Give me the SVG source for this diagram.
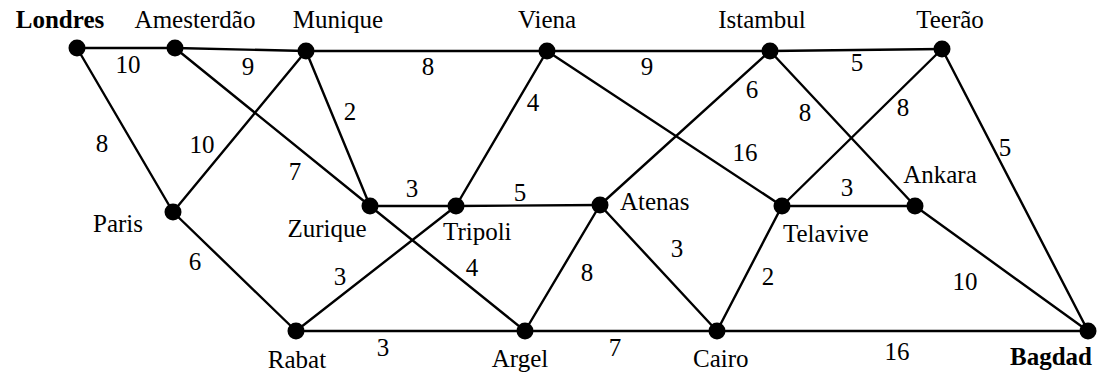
<svg xmlns="http://www.w3.org/2000/svg" width="1098" height="376" viewBox="0 0 1098 376" font-family="'Liberation Serif', 'Times New Roman', 'DejaVu Serif', serif" font-size="25">
<style>
.e{stroke:#000;stroke-width:2.4;fill:none;stroke-linecap:round}
.n{fill:#000}
text{font-family:'Liberation Serif','Times New Roman','DejaVu Serif',serif;font-size:25px;fill:#000}
.w{text-anchor:middle}
.b{font-weight:bold}
</style>
<rect width="1098" height="376" fill="#fff"/>
<g id="connectors">
<line class="e" x1="77" y1="48" x2="175" y2="48"/>
<line class="e" x1="175" y1="48" x2="306" y2="51"/>
<line class="e" x1="306" y1="51" x2="547" y2="51"/>
<line class="e" x1="547" y1="51" x2="770" y2="51"/>
<line class="e" x1="770" y1="51" x2="942" y2="49"/>
<line class="e" x1="77" y1="48" x2="173" y2="212"/>
<line class="e" x1="173" y1="212" x2="306" y2="51"/>
<line class="e" x1="175" y1="48" x2="370" y2="206"/>
<line class="e" x1="306" y1="51" x2="370" y2="206"/>
<line class="e" x1="547" y1="51" x2="456" y2="206"/>
<line class="e" x1="547" y1="51" x2="782" y2="206"/>
<line class="e" x1="770" y1="51" x2="600" y2="205"/>
<line class="e" x1="770" y1="51" x2="915" y2="206"/>
<line class="e" x1="942" y1="49" x2="782" y2="206"/>
<line class="e" x1="942" y1="49" x2="1088" y2="331"/>
<line class="e" x1="173" y1="212" x2="296" y2="331"/>
<line class="e" x1="370" y1="206" x2="456" y2="206"/>
<line class="e" x1="456" y1="206" x2="600" y2="205"/>
<line class="e" x1="782" y1="206" x2="915" y2="206"/>
<line class="e" x1="370" y1="206" x2="525" y2="331"/>
<line class="e" x1="296" y1="331" x2="456" y2="206"/>
<line class="e" x1="600" y1="205" x2="525" y2="331"/>
<line class="e" x1="600" y1="205" x2="717" y2="331"/>
<line class="e" x1="782" y1="206" x2="717" y2="331"/>
<line class="e" x1="915" y1="206" x2="1088" y2="331"/>
<line class="e" x1="296" y1="331" x2="525" y2="331"/>
<line class="e" x1="525" y1="331" x2="717" y2="331"/>
<line class="e" x1="717" y1="331" x2="1088" y2="331"/>
<g class="w" text-anchor="middle">
<text x="128" y="73">10</text>
<text x="248" y="75">9</text>
<text x="428" y="75">8</text>
<text x="647" y="75">9</text>
<text x="857" y="71">5</text>
<text x="350" y="120">2</text>
<text x="533" y="111">4</text>
<text x="752" y="98">6</text>
<text x="805" y="121">8</text>
<text x="903" y="116">8</text>
<text x="102" y="152">8</text>
<text x="202" y="153">10</text>
<text x="295" y="180">7</text>
<text x="745" y="161">16</text>
<text x="1005" y="156">5</text>
<text x="412" y="197">3</text>
<text x="520" y="201">5</text>
<text x="847" y="196">3</text>
<text x="677" y="257">3</text>
<text x="195" y="270">6</text>
<text x="472" y="276">4</text>
<text x="587" y="281">8</text>
<text x="340" y="285">3</text>
<text x="768" y="285">2</text>
<text x="965" y="290">10</text>
<text x="383" y="356">3</text>
<text x="615" y="356">7</text>
<text x="897" y="360">16</text>
</g>
</g>
<g id="londres"><circle class="n" cx="77" cy="48" r="8.5"/><text class="w b" x="60" y="28" text-anchor="middle" font-weight="bold">Londres</text></g>
<g id="amesterdao"><circle class="n" cx="175" cy="48" r="8.5"/><text class="w" x="195" y="28" text-anchor="middle">Amesterdão</text></g>
<g id="munique"><circle class="n" cx="306" cy="51" r="8.5"/><text class="w" x="338" y="28" text-anchor="middle">Munique</text></g>
<g id="viena"><circle class="n" cx="547" cy="51" r="8.5"/><text class="w" x="547" y="28" text-anchor="middle">Viena</text></g>
<g id="istambul"><circle class="n" cx="770" cy="51" r="8.5"/><text class="w" x="762" y="28" text-anchor="middle">Istambul</text></g>
<g id="teerao"><circle class="n" cx="942" cy="49" r="8.5"/><text class="w" x="950" y="28" text-anchor="middle">Teerão</text></g>
<g id="paris"><circle class="n" cx="173" cy="212" r="8.5"/><text class="w" x="118" y="232" text-anchor="middle">Paris</text></g>
<g id="zurique"><circle class="n" cx="370" cy="206" r="8.5"/><text class="w" x="327" y="237" text-anchor="middle">Zurique</text></g>
<g id="tripoli"><circle class="n" cx="456" cy="206" r="8.5"/><text x="443" y="240">Tripoli</text></g>
<g id="atenas"><circle class="n" cx="600" cy="205" r="8.5"/><text x="620" y="210">Atenas</text></g>
<g id="telavive"><circle class="n" cx="782" cy="206" r="8.5"/><text x="783" y="242">Telavive</text></g>
<g id="ankara"><circle class="n" cx="915" cy="206" r="8.5"/><text class="w" x="940" y="183" text-anchor="middle">Ankara</text></g>
<g id="rabat"><circle class="n" cx="296" cy="331" r="8.5"/><text class="w" x="297" y="368" text-anchor="middle">Rabat</text></g>
<g id="argel"><circle class="n" cx="525" cy="331" r="8.5"/><text class="w" x="520" y="367" text-anchor="middle">Argel</text></g>
<g id="cairo"><circle class="n" cx="717" cy="331" r="8.5"/><text x="693" y="367">Cairo</text></g>
<g id="bagdad"><circle class="n" cx="1088" cy="331" r="8.5"/><text class="b" x="1092" y="365" text-anchor="end" font-weight="bold">Bagdad</text></g>
</svg>
